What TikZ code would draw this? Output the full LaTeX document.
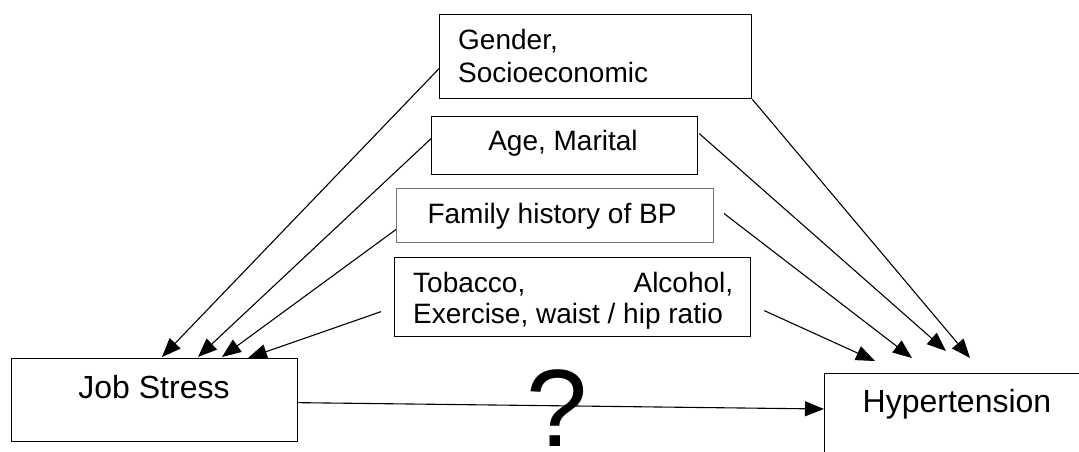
\documentclass[tikz,border=0pt]{standalone}
\usepackage{fontspec}
\setmainfont{Liberation Sans}
\usetikzlibrary{arrows.meta,calc}
\begin{document}
\begin{tikzpicture}[x=1pt,y=-1pt,
  box/.style={draw, line width=1.3pt, inner sep=0pt, anchor=north west},
  conn/.style={line width=1.1pt, -{Triangle[length=19pt,width=15pt]}},
  small/.style={font=\fontsize{28}{32}\selectfont, inner sep=0pt},
  big/.style={font=\fontsize{32}{38}\selectfont, inner sep=0pt}]
\useasboundingbox (0,0) rectangle (1079,452);
\clip (0,0) rectangle (1079,452);
\fill[white] (0,0) rectangle (1079,452);

% boxes
\node[box, minimum width=312pt, minimum height=84pt] (gender) at (439,14) {};
\node[small, anchor=base west] (gendertxt) at (458,50) {Gender,};
\node[small, anchor=base west] (sociotxt) at (458,82) {Socioeconomic};

\node[box, minimum width=266pt, minimum height=58pt] (age) at (431,116) {};
\node[small, anchor=base] (agetxt) at (563,150) {Age, Marital};

\node[box, draw=black!55, line width=1pt, minimum width=317pt, minimum height=54pt] (fam) at (396,188) {};
\node[small, anchor=base] (famtxt) at (552,223) {Family history of BP};

\node[box, minimum width=356pt, minimum height=79pt] (tob) at (394,257) {};
\node[small, anchor=base west] (tobtxt1) at (413,292) {\makebox[320pt][s]{Tobacco,\hfill Alcohol,}};
\node[small, anchor=base west] (tobtxt2) at (413,323) {Exercise, waist / hip ratio};

\node[box, minimum width=286pt, minimum height=83pt] (js) at (11,358) {};
\node[big, anchor=base] (jstxt) at (154,398) {Job Stress};

\node[box, minimum width=300pt, minimum height=120pt] (ht) at (824,373) {};
\node[big, anchor=base] (httxt) at (957,412) {Hypertension};

\node[font=\fontsize{110}{118}\selectfont, inner sep=0pt, anchor=base] (q) at (557,446) {?};

% connectors to Job Stress
\draw[conn] ([yshift=-12pt]gender.west) -- ([xshift=151pt,yshift=1pt]js.north west);
\draw[conn] ([yshift=7pt]age.west) -- ([xshift=187pt,yshift=1pt]js.north west);
\draw[conn] ([yshift=-14pt]fam.west) -- ([xshift=211pt,yshift=1pt]js.north west);
\draw[conn] ([xshift=-13pt,yshift=-14.5pt]tob.west) -- ([xshift=237pt,yshift=0pt]js.north west);

% connectors to Hypertension
\draw[conn] (gender.south east) -- ([xshift=146pt,yshift=15pt]ht.north west);
\draw[conn] ([xshift=1pt,yshift=12pt]age.east) -- ([xshift=122pt,yshift=22pt]ht.north west);
\draw[conn] ([xshift=10pt,yshift=2pt]fam.east) -- ([xshift=88pt,yshift=15pt]ht.north west);
\draw[conn] ([xshift=13pt,yshift=-13.5pt]tob.east) -- ([xshift=51pt,yshift=12pt]ht.north west);

% main link
\draw[conn] ([yshift=-2.5pt]js.east) -- ([yshift=-36pt]ht.north west);
\end{tikzpicture}
\end{document}
